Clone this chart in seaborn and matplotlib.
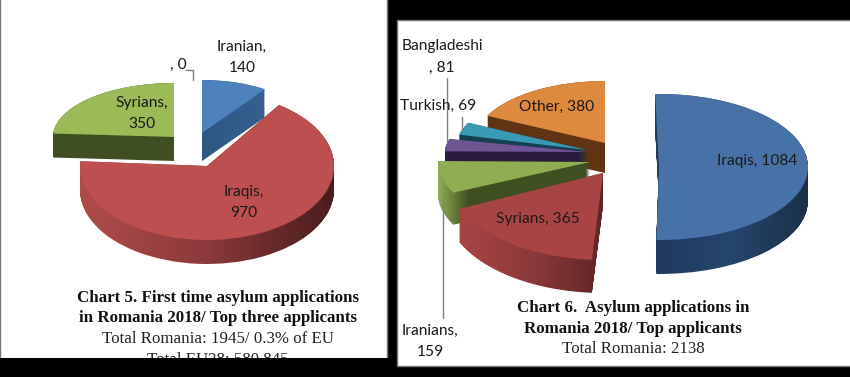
import numpy as np
import seaborn as sns
import matplotlib.pyplot as plt
from matplotlib.colors import LinearSegmentedColormap
from matplotlib.patches import Rectangle
from matplotlib.path import Path
from matplotlib.transforms import Affine2D

# chart 5 data
names_5 = ["Iranian", "Iraqis", "Syrians", ""]
values_5 = [140, 970, 350, 0]
# chart 6 data
names_6 = ["Iraqis", "Syrians", "Iranians", "Bangladeshi", "Turkish", "Other"]
values_6 = [1084, 365, 159, 81, 69, 380]

# look of each slice: top colour, side colours from left to right
tops_5 = ["#4f81bd", "#bd504e", "#9bbb59", "#8064a2"]
sides_5 = [["#2f5582", "#37608f"], ["#b04c4a", "#8a3a39", "#4a1c1c"],
           ["#3f4f20", "#3f4f20"], ["#3f4f20", "#3f4f20"]]
tops_6 = ["#4672a8", "#a84543", "#8fae54", "#6f5496", "#3a9ab5", "#dd8a3f"]
sides_6 = [["#1f3a5e", "#24466e", "#1a3048"], ["#a84543", "#8a3a39", "#602625"],
           ["#8fae54", "#3f4f20", "#3f4f20", "#3f4f20", "#3f4f20", "#3f4f20"],
           ["#2a1c40", "#2a1c40"], ["#14404f", "#14404f"], ["#5f3413", "#5f3413"]]

# apex x, apex y, radius x, radius y, depth, rotation, draw order (in pixels)
geom_5 = [(202, 133, 111, 53, 28, 0, 2), (207, 166, 127, 74, 24, 0, 4),
          (174, 137, 121, 54, 24, 0, 3), (174, 137, 121, 54, 24, 0, 1)]
geom_6 = [(659, 167, 149, 73, 34, 1.5, 7), (603, 173, 158, 87, 33, -1.5, 6),
          (590, 162, 152, 70, 32, 0, 5), (588, 152, 143, 52, 30, 0, 4),
          (587, 150, 132, 62, 30, 0, 3), (605, 143, 131, 62, 30, 0, 2)]


def draw_pie(ax, values, tops, sides, geom):
    wedges, _ = ax.pie(values, startangle=90, counterclock=False, colors=tops,
                       wedgeprops={"linewidth": 0})
    for wedge, value, side, (x, y, rx, ry, depth, rot, order) in zip(wedges, values, sides, geom):
        if value == 0:
            wedge.set_visible(False)
            continue
        place = Affine2D().rotate_deg(rot).scale(rx, -ry).translate(x, y)
        wedge.set_transform(place + ax.transData)
        wedge.set_zorder(order + 0.5)
        # side of the slice: the top shape pushed down, filled with a gradient
        unit = wedge.get_path()
        layers = [unit.transformed(place + Affine2D().translate(0, k)) for k in range(depth + 1)]
        shape = Path.make_compound_path(*layers)
        box = shape.get_extents()
        cmap = LinearSegmentedColormap.from_list("side", side)
        im = ax.imshow(np.linspace(0, 1, 256)[None, :], cmap=cmap, aspect="auto",
                       extent=(box.x0, box.x1, box.y1, box.y0), zorder=order)
        im.set_clip_path(shape, ax.transData)


sns.set_theme(style="white")
plt.rcParams["font.family"] = ["Lato", "DejaVu Sans"]

fig = plt.figure(figsize=(8.5, 3.77), dpi=100, facecolor="black")
ax = fig.add_axes([0, 0, 1, 1])

ax.add_patch(Rectangle((0, -2), 387, 362, fc="white", ec="#777777", lw=1, zorder=0))
ax.add_patch(Rectangle((397, 20), 456, 346, fc="white", ec="#777777", lw=1, zorder=0))

draw_pie(ax, values_5, tops_5, sides_5, geom_5)
draw_pie(ax, values_6, tops_6, sides_6, geom_6)

ax.set_aspect("auto")
ax.set_xlim(0, 850)
ax.set_ylim(377, 0)
ax.axis("off")

# leader lines
lead = {"color": "#808080", "lw": 1, "zorder": 12}
ax.plot([186, 193, 193], [70, 70, 80], **lead)
ax.plot([447, 447], [78, 142], **lead)
ax.plot([462, 462], [117, 130], **lead)
ax.plot([443, 443], [198, 318], **lead)

# slice labels
label = {"ha": "center", "va": "center", "fontsize": 11.2, "color": "#1a1a1a", "zorder": 13}
ax.text(242, 47, names_5[0] + ",", **label)
ax.text(242, 68, str(values_5[0]), **label)
ax.text(142, 103, names_5[2] + ",", **label)
ax.text(142, 124, str(values_5[2]), **label)
ax.text(244, 192, names_5[1] + ",", **label)
ax.text(244, 213, str(values_5[1]), **label)
ax.text(178, 65, ", " + str(values_5[3]), **label)

ax.text(757, 161, f"{names_6[0]}, {values_6[0]}", **label)
ax.text(538, 219, f"{names_6[1]}, {values_6[1]}", **label)
ax.text(430, 331, names_6[2] + ",", **label)
ax.text(430, 352, str(values_6[2]), **label)
ax.text(442, 46, names_6[3], **label)
ax.text(442, 68, ", " + str(values_6[3]), **label)
ax.text(438, 106, f"{names_6[4]}, {values_6[4]}", **label)
ax.text(557, 107, f"{names_6[5]}, {values_6[5]}", **label)

# captions
bold = {"ha": "center", "va": "center", "fontsize": 12.2, "family": "Liberation Serif",
        "fontweight": "bold", "color": "#111111", "zorder": 13}
plain = {"ha": "center", "va": "center", "fontsize": 12.2, "family": "Liberation Serif",
         "color": "#222222", "zorder": 13}
ax.text(218, 298, "Chart 5. First time asylum applications", **bold)
ax.text(218, 318, "in Romania 2018/ Top three applicants", **bold)
ax.text(218, 339, "Total Romania: 1945/ 0.3% of EU", **plain)
ax.text(218, 360, "Total EU28: 580 845", **plain)
ax.text(633, 308, "Chart 6.  Asylum applications in", **bold)
ax.text(633, 329, "Romania 2018/ Top applicants", **bold)
ax.text(633, 349, "Total Romania: 2138", **plain)

# bottom black band cuts the last caption line
ax.add_patch(Rectangle((0, 358), 392, 20, fc="black", ec="none", zorder=20))

fig.savefig("out.png", dpi=100, facecolor="black")
